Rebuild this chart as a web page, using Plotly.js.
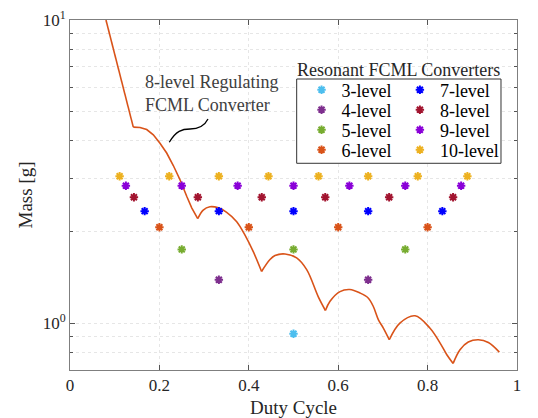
<!DOCTYPE html>
<html>
<head>
<meta charset="utf-8">
<script src="https://cdn.plot.ly/plotly-3.0.1.min.js"></script>
<style>html,body{margin:0;padding:0;background:#fff;}#chart{width:538px;height:418px;}</style>
</head>
<body>
<div id="chart"></div>
<script>
// Resonant FCML converters: duty cycles and masses
var levelNames = ['3-level','4-level','5-level','6-level','7-level','8-level','9-level','10-level'];
var duty3 = [0.5];
var duty4 = [0.333, 0.667];
var duty5 = [0.25, 0.5, 0.75];
var duty6 = [0.2, 0.4, 0.6, 0.8];
var duty7 = [0.167, 0.333, 0.5, 0.667, 0.833];
var duty8 = [0.143, 0.286, 0.429, 0.571, 0.714, 0.857];
var duty9 = [0.125, 0.25, 0.375, 0.5, 0.625, 0.75, 0.875];
var duty10 = [0.111, 0.222, 0.333, 0.444, 0.556, 0.667, 0.778, 0.889];
var mass3 = [0.922];
var mass4 = [1.39, 1.39];
var mass5 = [1.75, 1.75, 1.75];
var mass6 = [2.07, 2.07, 2.07, 2.07];
var mass7 = [2.34, 2.34, 2.34, 2.34, 2.34];
var mass8 = [2.60, 2.60, 2.60, 2.60, 2.60, 2.60];
var mass9 = [2.84, 2.84, 2.84, 2.84, 2.84, 2.84, 2.84];
var mass10 = [3.05, 3.05, 3.05, 3.05, 3.05, 3.05, 3.05, 3.05];
var levelColors = ['#4DBEEE','#7E2F8E','#77AC30','#D95319','#0000FF','#A2142F','#8A00D8','#EDB120'];

// 8-level regulating FCML converter curve
var regDuty = [0.0805, 0.1416, 0.1566, 0.1716, 0.1864, 0.2013, 0.2163, 0.2311, 0.2461, 0.2611, 0.2723, 0.2857,
  0.298, 0.313, 0.332, 0.3505, 0.373, 0.3915, 0.410, 0.4286,
  0.4474, 0.4586, 0.481, 0.507, 0.5295, 0.5555, 0.5714,
  0.5817, 0.604, 0.626, 0.649, 0.667, 0.6786, 0.690, 0.701, 0.7143,
  0.738, 0.772, 0.805, 0.828, 0.843, 0.8571,
  0.8725, 0.891, 0.9135, 0.936, 0.9605];
var regMass = [10, 4.43, 4.42, 4.35, 4.18, 3.92, 3.64, 3.31, 2.97, 2.62, 2.40, 2.21,
  2.36, 2.42, 2.40, 2.32, 2.16, 1.95, 1.72, 1.48,
  1.62, 1.67, 1.69, 1.64, 1.50, 1.22, 1.10,
  1.18, 1.27, 1.29, 1.256, 1.21, 1.134, 1.025, 0.963, 0.881,
  1.0, 1.057, 0.963, 0.859, 0.786, 0.736,
  0.817, 0.866, 0.881, 0.863, 0.802];
var regBreaks = [0, 1, 11, 19, 26, 35, 41, 46];

var xTicks = [0, 0.2, 0.4, 0.6, 0.8, 1];
var xTickText = ['0', '0.2', '0.4', '0.6', '0.8', '1'];
var yTicks = [1, 10];
var yTickText = ['10<sup>0</sup>', '10<sup>1</sup>'];

var FONT = "'Liberation Serif', 'Times New Roman', 'DejaVu Serif', serif";
var duties = [duty3, duty4, duty5, duty6, duty7, duty8, duty9, duty10];
var masses = [mass3, mass4, mass5, mass6, mass7, mass8, mass9, mass10];

var traces = [];
for (var s = 0; s < regBreaks.length - 1; s++) {
  var a = regBreaks[s], b = regBreaks[s + 1];
  traces.push({
    x: regDuty.slice(a, b + 1), y: regMass.slice(a, b + 1),
    type: 'scatter', mode: 'lines', showlegend: false, hoverinfo: 'skip',
    line: {color: '#D95319', width: 1.6, shape: s <= 1 ? 'linear' : 'spline', smoothing: 1}
  });
}
var legendKeys = [];
for (var i = 0; i < levelNames.length; i++) {
  var key = i === 0 ? 'legend' : 'legend' + (i + 1);
  legendKeys.push(key);
  traces.push({
    x: duties[i], y: masses[i], name: levelNames[i],
    type: 'scatter', mode: 'markers', legend: key,
    marker: {symbol: 'asterisk-open', size: 7, color: levelColors[i], line: {color: levelColors[i], width: 2}}
  });
}

var gridCol = '#e6e6e6';
var layout = {
  width: 538, height: 418,
  margin: {l: 70, r: 21, t: 20, b: 48},
  paper_bgcolor: '#fff', plot_bgcolor: '#fff',
  font: {family: FONT, size: 16, color: '#262626'},
  xaxis: {
    range: [0, 1], tickvals: xTicks, ticktext: xTickText,
    ticks: 'inside', ticklen: 5, tickcolor: '#555', mirror: 'ticks',
    showline: true, linecolor: '#7f7f7f', linewidth: 1,
    showgrid: true, gridcolor: gridCol, griddash: 'dot', zeroline: false,
    tickfont: {family: FONT, size: 17, color: '#262626'},
    title: {text: 'Duty Cycle', font: {family: FONT, size: 19, color: '#262626'}, standoff: 6}
  },
  yaxis: {
    type: 'log', range: [Math.log10(0.7), 1], tickvals: yTicks, ticktext: yTickText,
    ticks: 'inside', ticklen: 5, tickcolor: '#555', mirror: 'ticks',
    showline: true, linecolor: '#7f7f7f', linewidth: 1,
    showgrid: true, gridcolor: gridCol, griddash: 'dot', zeroline: false,
    minor: {dtick: 'D1', ticks: 'inside', ticklen: 3, tickcolor: '#555', showgrid: true, gridcolor: gridCol, griddash: 'dot'},
    tickfont: {family: FONT, size: 17, color: '#262626'},
    title: {text: 'Mass [g]', font: {family: FONT, size: 19, color: '#262626'}, standoff: 4}
  },
  shapes: [
    {type: 'rect', xref: 'paper', yref: 'paper', x0: 0.5071, x1: 0.9642, y0: 0.5906, y1: 0.8314,
     line: {color: '#333', width: 1}, fillcolor: '#fff', layer: 'above'},
    {type: 'path', xref: 'paper', yref: 'paper',
     path: 'M 0.2221 0.6506 C 0.2371 0.6829 0.2506 0.6886 0.2685 0.6886 S 0.2998 0.6943 0.3087 0.7171',
     line: {color: '#000', width: 1.3}}
  ],
  annotations: [
    {xref: 'paper', yref: 'paper', x: 0.7349, y: 0.857, xanchor: 'center', yanchor: 'middle',
     text: 'Resonant FCML Converters', showarrow: false, font: {family: FONT, size: 18, color: '#262626'}},
    {xref: 'paper', yref: 'paper', x: 0.164, y: 0.791, xanchor: 'left', yanchor: 'middle', align: 'left',
     text: '8-level Regulating<br>FCML Converter', showarrow: false, font: {family: FONT, size: 18, color: '#404040'}}
  ]
};
var rowY = [0.8, 0.7429, 0.6857, 0.6286];
var colX = [0.518, 0.738];
for (var k = 0; k < legendKeys.length; k++) {
  layout[legendKeys[k]] = {
    x: colX[Math.floor(k / 4)], y: rowY[k % 4], xanchor: 'left', yanchor: 'middle',
    bgcolor: 'rgba(0,0,0,0)', borderwidth: 0, itemwidth: 30,
    font: {family: FONT, size: 18, color: '#000'}
  };
}

Plotly.newPlot('chart', traces, layout, {displayModeBar: false, staticPlot: true});
</script>
</body>
</html>
